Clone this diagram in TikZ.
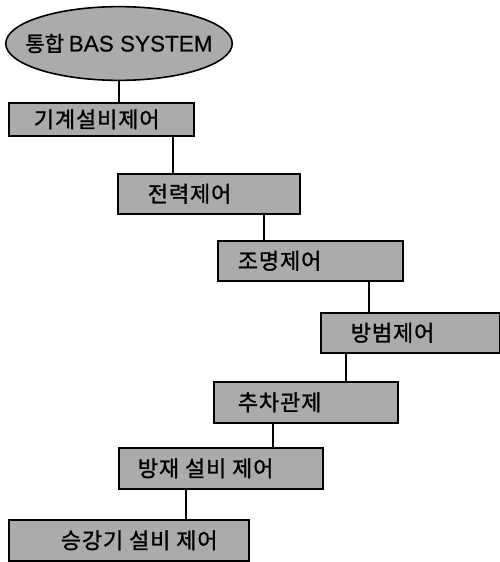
\documentclass[tikz,border=0pt]{standalone}
\usepackage{fontspec}
\setmainfont{Noto Sans CJK KR}[FakeBold=1.2]
\newfontfamily\boxfont{Noto Sans CJK KR}[FakeBold=1.2, LetterSpace=4]
\newfontfamily\latinsans{Liberation Sans}[FakeBold=0.6]
\usetikzlibrary{shapes.geometric}
\newcommand\boxtxt[3]{\makebox[#1pt][l]{\hspace{#2pt}#3}}
\tikzset{
  stepbox/.style={draw=black, line width=1.6pt, fill=black!33, rectangle,
    inner xsep=0pt, inner ysep=0pt, anchor=north west,
    font=\boxfont\fontsize{22}{24}\selectfont},
  topell/.style={draw=black, line width=1.6pt, fill=black!33, ellipse,
    inner xsep=-13.5pt, inner ysep=16.5pt,
    font=\fontsize{21}{24}\selectfont},
  link/.style={draw=black, line width=1.3pt}
}
\begin{document}
\begin{tikzpicture}[x=1pt,y=-1pt]
\useasboundingbox (0,0) rectangle (500,562);
\node[topell] (top) at (119,43.5) {통합 {\latinsans\fontsize{22.5}{24}\selectfont BAS SYSTEM}};
\node[stepbox, minimum height=33pt] (b1) at (8,102) {\boxtxt{185}{25}{기계설비제어}};
\node[stepbox, minimum height=40pt] (b2) at (117,173) {\boxtxt{182}{30}{전력제어}};
\node[stepbox, minimum height=40pt] (b3) at (217,240) {\boxtxt{185}{20}{조명제어}};
\node[stepbox, minimum height=40pt] (b4) at (320,312) {\boxtxt{179}{30}{방범제어}};
\node[stepbox, minimum height=41pt] (b5) at (213,381) {\boxtxt{184}{24}{추차관제}};
\node[stepbox, minimum height=41pt] (b6) at (118,447) {\boxtxt{204}{19}{방재 설비 제어}};
\node[stepbox, minimum height=41pt] (b7) at (8,519) {\boxtxt{240}{52}{승강기 설비 제어}};
\draw[link] (top.south) -- (top.south |- b1.north);
\draw[link] ([xshift=165pt]b1.south west) -- ([xshift=165pt]b1.south west |- b2.north);
\draw[link] ([xshift=147pt]b2.south west) -- ([xshift=147pt]b2.south west |- b3.north);
\draw[link] ([xshift=152pt]b3.south west) -- ([xshift=152pt]b3.south west |- b4.north);
\draw[link] ([xshift=26pt]b4.south west) -- ([xshift=26pt]b4.south west |- b5.north);
\draw[link] ([xshift=60pt]b5.south west) -- ([xshift=60pt]b5.south west |- b6.north);
\draw[link] ([xshift=68pt]b6.south west) -- ([xshift=68pt]b6.south west |- b7.north);
\end{tikzpicture}
\end{document}
